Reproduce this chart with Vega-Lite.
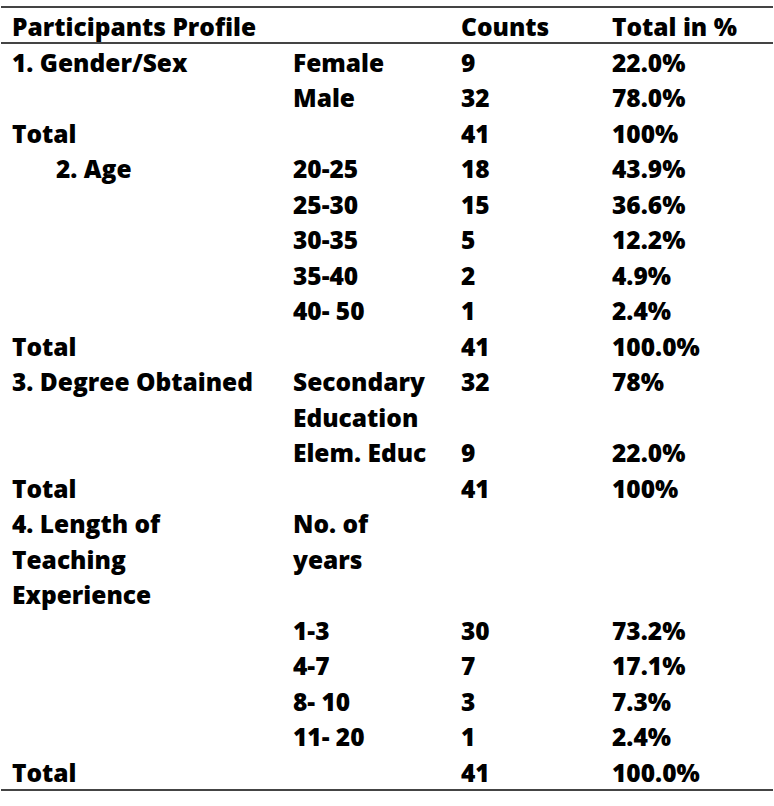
{
  "$schema": "https://vega.github.io/schema/vega-lite/v6.json",
  "width": 774,
  "height": 806,
  "padding": 0,
  "autosize": {"type": "fit", "contains": "padding"},
  "background": "white",
  "config": {"view": {"stroke": null}},
  "data": {"values": [
    {"r": 0, "c": 0, "t": "Participants Profile"},
    {"r": 0, "c": 2, "t": "Counts"},
    {"r": 0, "c": 3, "t": "Total in %"},
    {"r": 1, "c": 0, "t": "1. Gender/Sex"},
    {"r": 1, "c": 1, "t": "Female"},
    {"r": 1, "c": 2, "t": "9"},
    {"r": 1, "c": 3, "t": "22.0%"},
    {"r": 2, "c": 1, "t": "Male"},
    {"r": 2, "c": 2, "t": "32"},
    {"r": 2, "c": 3, "t": "78.0%"},
    {"r": 3, "c": 0, "t": "Total"},
    {"r": 3, "c": 2, "t": "41"},
    {"r": 3, "c": 3, "t": "100%"},
    {"r": 4, "c": 0, "t": "2. Age"},
    {"r": 4, "c": 1, "t": "20-25"},
    {"r": 4, "c": 2, "t": "18"},
    {"r": 4, "c": 3, "t": "43.9%"},
    {"r": 5, "c": 1, "t": "25-30"},
    {"r": 5, "c": 2, "t": "15"},
    {"r": 5, "c": 3, "t": "36.6%"},
    {"r": 6, "c": 1, "t": "30-35"},
    {"r": 6, "c": 2, "t": "5"},
    {"r": 6, "c": 3, "t": "12.2%"},
    {"r": 7, "c": 1, "t": "35-40"},
    {"r": 7, "c": 2, "t": "2"},
    {"r": 7, "c": 3, "t": "4.9%"},
    {"r": 8, "c": 1, "t": "40- 50"},
    {"r": 8, "c": 2, "t": "1"},
    {"r": 8, "c": 3, "t": "2.4%"},
    {"r": 9, "c": 0, "t": "Total"},
    {"r": 9, "c": 2, "t": "41"},
    {"r": 9, "c": 3, "t": "100.0%"},
    {"r": 10, "c": 0, "t": "3. Degree Obtained"},
    {"r": 10, "c": 1, "t": "Secondary"},
    {"r": 10, "c": 2, "t": "32"},
    {"r": 10, "c": 3, "t": "78%"},
    {"r": 11, "c": 1, "t": "Education"},
    {"r": 12, "c": 1, "t": "Elem. Educ"},
    {"r": 12, "c": 2, "t": "9"},
    {"r": 12, "c": 3, "t": "22.0%"},
    {"r": 13, "c": 0, "t": "Total"},
    {"r": 13, "c": 2, "t": "41"},
    {"r": 13, "c": 3, "t": "100%"},
    {"r": 14, "c": 0, "t": "4. Length of"},
    {"r": 14, "c": 1, "t": "No. of"},
    {"r": 15, "c": 0, "t": "Teaching"},
    {"r": 15, "c": 1, "t": "years"},
    {"r": 16, "c": 0, "t": "Experience"},
    {"r": 17, "c": 1, "t": "1-3"},
    {"r": 17, "c": 2, "t": "30"},
    {"r": 17, "c": 3, "t": "73.2%"},
    {"r": 18, "c": 1, "t": "4-7"},
    {"r": 18, "c": 2, "t": "7"},
    {"r": 18, "c": 3, "t": "17.1%"},
    {"r": 19, "c": 1, "t": "8- 10"},
    {"r": 19, "c": 2, "t": "3"},
    {"r": 19, "c": 3, "t": "7.3%"},
    {"r": 20, "c": 1, "t": "11- 20"},
    {"r": 20, "c": 2, "t": "1"},
    {"r": 20, "c": 3, "t": "2.4%"},
    {"r": 21, "c": 0, "t": "Total"},
    {"r": 21, "c": 2, "t": "41"},
    {"r": 21, "c": 3, "t": "100.0%"}
  ]},
  "encoding": {
    "y": {"field": "r", "type": "quantitative", "axis": null,
          "scale": {"domain": [-1.0135, 21.678], "reverse": true, "zero": false, "nice": false}}
  },
  "layer": [
    {
      "transform": [{"filter": "datum.t !== '2. Age'"}],
      "mark": {"type": "text", "align": "left", "baseline": "alphabetic", "font": "Open Sans", "fontWeight": 800, "fontSize": 24.5, "color": "black"},
      "encoding": {
        "x": {"field": "c", "type": "quantitative", "axis": null,
              "scale": {"domain": [0, 1, 2, 3], "range": [11, 292, 460, 611], "zero": false, "nice": false}},
        "text": {"field": "t"}
      }
    },
    {
      "transform": [{"filter": "datum.t === '2. Age'"}],
      "mark": {"type": "text", "align": "left", "baseline": "alphabetic", "dx": 44, "font": "Open Sans", "fontWeight": 800, "fontSize": 24.5, "color": "black"},
      "encoding": {
        "x": {"field": "c", "type": "quantitative", "axis": null},
        "text": {"field": "t"}
      }
    },
    {
      "mark": {"type": "rule", "color": "#444444", "strokeWidth": 1.2},
      "encoding": {"y": {"datum": -0.817}}
    },
    {
      "mark": {"type": "rule", "color": "#444444", "strokeWidth": 1.2},
      "encoding": {"y": {"datum": 0.189}}
    },
    {
      "mark": {"type": "rule", "color": "#444444", "strokeWidth": 1.2},
      "encoding": {"y": {"datum": 21.227}}
    }
  ]
}
